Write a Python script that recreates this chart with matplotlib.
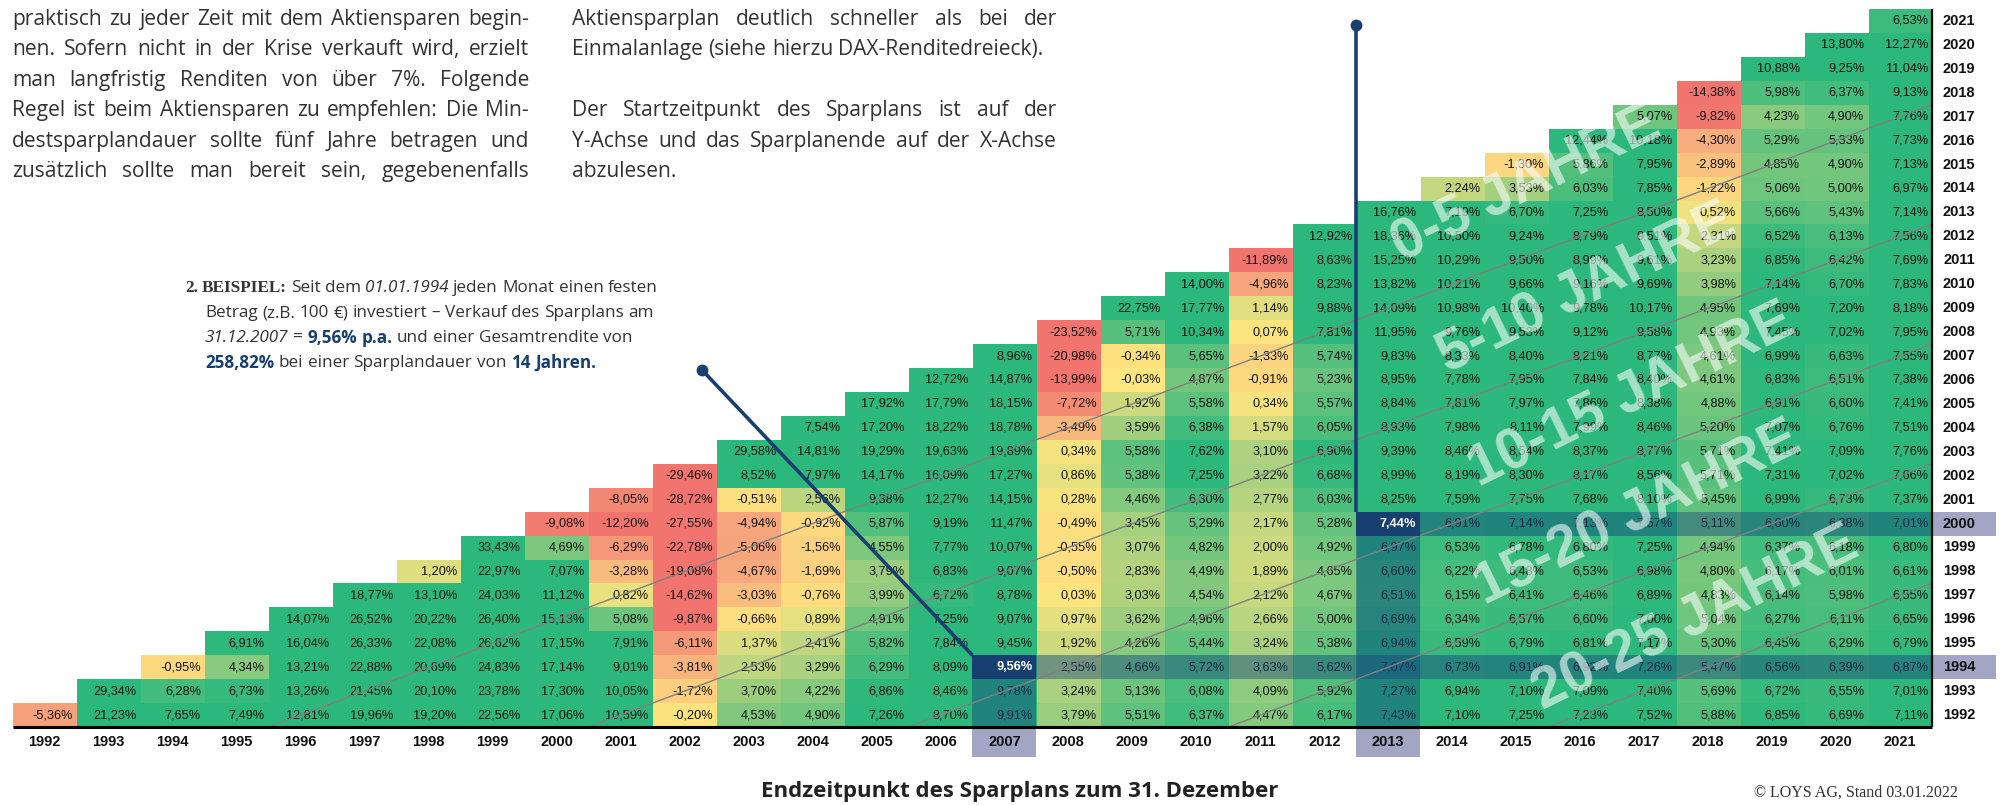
#!/usr/bin/env python3
# -*- coding: utf-8 -*-
"""
DAX-Sparplan-Renditedreieck (Rendite p.a.), Startjahr (Y) x Endjahr (X).
"""
import numpy as np
import matplotlib
matplotlib.use('Agg')
import matplotlib.pyplot as plt
from matplotlib.colors import LinearSegmentedColormap, Normalize
from matplotlib.patches import Rectangle
from matplotlib.transforms import IdentityTransform

plt.rcParams['font.family'] = ['Liberation Sans', 'DejaVu Sans']

# ——— Daten: Rendite p.a. je Sparplanende (Spalte), Startjahr ab 1992 aufwärts ———
years = list(range(1992, 2022))

end_1992 = [-5.36]
end_1993 = [21.23, 29.34]
end_1994 = [7.65, 6.28, -0.95]
end_1995 = [7.49, 6.73, 4.34, 6.91]
end_1996 = [12.81, 13.26, 13.21, 16.04, 14.07]
end_1997 = [19.96, 21.45, 22.88, 26.33, 26.52, 18.77]
end_1998 = [19.20, 20.10, 20.69, 22.08, 20.22, 13.10, 1.20]
end_1999 = [22.56, 23.78, 24.83, 26.62, 26.40, 24.03, 22.97, 33.43]
end_2000 = [17.06, 17.30, 17.14, 17.15, 15.13, 11.12, 7.07, 4.69, -9.08]
end_2001 = [10.59, 10.05, 9.01, 7.91, 5.08, 0.82, -3.28, -6.29, -12.20, -8.05]
end_2002 = [-0.20, -1.72, -3.81, -6.11, -9.87, -14.62, -19.08, -22.78, -27.55, -28.72, -29.46]
end_2003 = [4.53, 3.70, 2.53, 1.37, -0.66, -3.03, -4.67, -5.06, -4.94, -0.51, 8.52, 29.58]
end_2004 = [4.90, 4.22, 3.29, 2.41, 0.89, -0.76, -1.69, -1.56, -0.92, 2.56, 7.97, 14.81, 7.54]
end_2005 = [7.26, 6.86, 6.29, 5.82, 4.91, 3.99, 3.79, 4.55, 5.87, 9.38, 14.17, 19.29, 17.20, 17.92]
end_2006 = [8.70, 8.46, 8.09, 7.84, 7.25, 6.72, 6.83, 7.77, 9.19, 12.27, 16.09, 19.63, 18.22, 17.79, 12.72]
end_2007 = [9.91, 9.78, 9.56, 9.45, 9.07, 8.78, 9.07, 10.07, 11.47, 14.15, 17.27, 19.89, 18.78, 18.15,
            14.87, 8.96]
end_2008 = [3.79, 3.24, 2.55, 1.92, 0.97, 0.03, -0.50, -0.55, -0.49, 0.28, 0.86, 0.34, -3.49, -7.72,
            -13.99, -20.98, -23.52]
end_2009 = [5.51, 5.13, 4.66, 4.26, 3.62, 3.03, 2.83, 3.07, 3.45, 4.46, 5.38, 5.58, 3.59, 1.92,
            -0.03, -0.34, 5.71, 22.75]
end_2010 = [6.37, 6.08, 5.72, 5.44, 4.96, 4.54, 4.49, 4.82, 5.29, 6.30, 7.25, 7.62, 6.38, 5.58,
            4.87, 5.65, 10.34, 17.77, 14.00]
end_2011 = [4.47, 4.09, 3.63, 3.24, 2.66, 2.12, 1.89, 2.00, 2.17, 2.77, 3.22, 3.10, 1.57, 0.34,
            -0.91, -1.33, 0.07, 1.14, -4.96, -11.89]
end_2012 = [6.17, 5.92, 5.62, 5.38, 5.00, 4.67, 4.65, 4.92, 5.28, 6.03, 6.68, 6.90, 6.05, 5.57,
            5.23, 5.74, 7.81, 9.88, 8.23, 8.63, 12.92]
end_2013 = [7.43, 7.27, 7.07, 6.94, 6.69, 6.51, 6.60, 6.97, 7.44, 8.25, 8.99, 9.39, 8.93, 8.84,
            8.95, 9.83, 11.95, 14.09, 13.82, 15.25, 18.36, 16.76]
end_2014 = [7.10, 6.94, 6.73, 6.59, 6.34, 6.15, 6.22, 6.53, 6.91, 7.59, 8.19, 8.46, 7.98, 7.81,
            7.78, 8.33, 9.76, 10.98, 10.21, 10.29, 10.50, 7.19, 2.24]
end_2015 = [7.25, 7.10, 6.91, 6.79, 6.57, 6.41, 6.48, 6.78, 7.14, 7.75, 8.30, 8.54, 8.11, 7.97,
            7.95, 8.40, 9.53, 10.40, 9.66, 9.50, 9.24, 6.70, 3.53, -1.30]
end_2016 = [7.23, 7.09, 6.92, 6.81, 6.60, 6.46, 6.53, 6.80, 7.13, 7.68, 8.17, 8.37, 7.99, 7.86,
            7.84, 8.21, 9.12, 9.78, 9.16, 8.99, 8.79, 7.25, 6.03, 5.86, 12.44]
end_2017 = [7.52, 7.40, 7.26, 7.17, 7.00, 6.89, 6.98, 7.25, 7.57, 8.10, 8.56, 8.77, 8.46, 8.38,
            8.40, 8.77, 9.58, 10.17, 9.69, 9.61, 9.51, 8.50, 7.85, 7.95, 10.18, 5.07]
end_2018 = [5.88, 5.69, 5.47, 5.30, 5.04, 4.83, 4.80, 4.94, 5.11, 5.45, 5.71, 5.71, 5.20, 4.88,
            4.61, 4.61, 4.93, 4.95, 3.98, 3.23, 2.31, 0.52, -1.22, -2.89, -4.30, -9.82, -14.38]
end_2019 = [6.85, 6.72, 6.56, 6.45, 6.27, 6.14, 6.17, 6.37, 6.60, 6.99, 7.31, 7.41, 7.07, 6.91,
            6.83, 6.99, 7.45, 7.69, 7.14, 6.85, 6.52, 5.66, 5.06, 4.85, 5.29, 4.23, 5.98, 10.88]
end_2020 = [6.69, 6.55, 6.39, 6.29, 6.11, 5.98, 6.01, 6.18, 6.38, 6.73, 7.02, 7.09, 6.76, 6.60,
            6.51, 6.63, 7.02, 7.20, 6.70, 6.42, 6.13, 5.43, 5.00, 4.90, 5.33, 4.90, 6.37, 9.25, 13.80]
end_2021 = [7.11, 7.01, 6.87, 6.79, 6.65, 6.55, 6.61, 6.80, 7.01, 7.37, 7.66, 7.76, 7.51, 7.41,
            7.38, 7.55, 7.95, 8.18, 7.83, 7.69, 7.56, 7.14, 6.97, 7.13, 7.73, 7.76, 9.13, 11.04,
            12.27, 6.53]

columns = [end_1992, end_1993, end_1994, end_1995, end_1996, end_1997, end_1998, end_1999,
           end_2000, end_2001, end_2002, end_2003, end_2004, end_2005, end_2006, end_2007,
           end_2008, end_2009, end_2010, end_2011, end_2012, end_2013, end_2014, end_2015,
           end_2016, end_2017, end_2018, end_2019, end_2020, end_2021]

# Beispiele (Startjahr, Endjahr)
examples = [(1994, 2007), (2000, 2013)]
zone_labels = ['0-5 JAHRE', '5-10 JAHRE', '10-15 JAHRE', '15-20 JAHRE', '20-25 JAHRE']
zone_bounds = [4, 9, 14, 19, 24]   # Trennlinien Endjahr - Startjahr

# ——— Farben ———
NAVY = '#173F70'
SHADE = '#15457E'
LAV = '#A2A5C4'
TXT = '#333333'

# ——— Layout (Pixel) ———
W, H = 2000, 805
GX0, GX1 = 12.8, 1932.0
GY0, GY1 = 9.0, 727.0
COL = (GX1 - GX0) / len(years)
ROW = (GY1 - GY0) / len(years)

fig = plt.figure(figsize=(W / 100, H / 100), dpi=100)
ax = fig.add_axes([GX0 / W, 1 - GY1 / H, (GX1 - GX0) / W, (GY1 - GY0) / H])
lo, hi = years[0] - 0.5, years[-1] + 0.5
ax.set_xlim(lo, hi)
ax.set_ylim(lo, hi)
ax.axis('off')


def px2data(x, y):
    return lo + (x - GX0) / COL, lo + (GY1 - y) / ROW


# ——— Zellen ———
n = len(years)
grid = np.full((n, n), np.nan)
for j, col in enumerate(columns):
    for i, v in enumerate(col):
        grid[i, j] = v

cmap = LinearSegmentedColormap.from_list(
    'ryg', [(0.0, '#F1756E'), (5 / 17, '#F6A57D'), (10 / 17, '#FEE680'),
            (13.5 / 17, '#A5D07F'), (1.0, '#2CB87C')])
cmap.set_bad((1, 1, 1, 0))
ax.imshow(np.ma.masked_invalid(grid), cmap=cmap, norm=Normalize(-10, 7, clip=True),
          origin='lower', extent=(lo, hi, lo, hi), aspect='auto',
          interpolation='nearest', zorder=1)

hl = set((e, s) for s, e in examples)
for j, col in enumerate(columns):
    e = years[j]
    for i, v in enumerate(col):
        s = years[i]
        lab = f'{v:.2f}%'.replace('.', ',')
        if (e, s) in hl:
            ax.add_patch(Rectangle((e - 0.5, s - 0.5), 1, 1, fc=NAVY, ec='none', zorder=5))
            ax.text(e + 0.44, s, lab, ha='right', va='center', fontsize=9.2,
                    color='white', fontweight='bold', zorder=6)
        else:
            ax.text(e + 0.44, s, lab, ha='right', va='center', fontsize=9.2,
                    color='#111111', zorder=2)

# Hervorhebung Zeile / Spalte der Beispiele
for s, e in examples:
    ax.add_patch(Rectangle((e + 0.5, s - 0.5), hi - (e + 0.5), 1, fc=SHADE, alpha=0.45,
                           ec='none', zorder=4))
    ax.add_patch(Rectangle((e - 0.5, lo), 1, s - 0.5 - lo, fc=SHADE, alpha=0.45,
                           ec='none', zorder=4))
    ax.add_patch(Rectangle((e - 0.5, lo - 30 / ROW), 1, 30 / ROW, fc=LAV, ec='none',
                           clip_on=False, zorder=1))
    ax.add_patch(Rectangle((hi, s - 0.5), 1, 1, fc=LAV, ec='none', clip_on=False, zorder=1))

# Diagonale Trennlinien der Laufzeiten
for d in zone_bounds:
    ax.plot([lo + d, hi], [lo, hi - d], color='#808080', lw=1.0, zorder=4.5)

# Wasserzeichen
zone_pos = [(2015.15, 2014.15), (2016.1, 2009.8), (2016.8, 2005.3), (2016.9, 2000.4), (2017.8, 1996.0)]
for (x, y), t in zip(zone_pos, zone_labels):
    ax.text(x, y, t, rotation=26, rotation_mode='anchor', ha='center', va='center',
            fontsize=41, fontweight='bold', color='white', alpha=0.58, zorder=6)

# Achsenbeschriftungen
for y in years:
    ax.text(y, lo - 15 / ROW, str(y), ha='center', va='center', fontsize=10.5,
            fontweight='bold', color='#111111', clip_on=False, zorder=3)
    ax.text(hi + 27 / COL, y, str(y), ha='center', va='center', fontsize=10.5,
            fontweight='bold', color='#111111', clip_on=False, zorder=3)
ax.plot([lo, hi], [lo, lo], color='black', lw=2.2, solid_capstyle='butt', clip_on=False, zorder=8)
ax.plot([hi, hi], [lo, hi], color='black', lw=1.6, solid_capstyle='butt', clip_on=False, zorder=8)

# Verbindungslinien zu den Beispielen
x1, y1 = px2data(702, 370)
ax.plot([x1, 2007 - 0.5], [y1, 1994 + 0.5], color=NAVY, lw=2.6, solid_capstyle='butt',
        clip_on=False, zorder=7)
ax.plot(x1, y1, 'o', ms=7.5, color=NAVY, clip_on=False, zorder=7)
_, y2 = px2data(0, 25)
ax.plot([2013 - 0.5, 2013 - 0.5], [y2, 2000 + 0.5], color=NAVY, lw=2.6, solid_capstyle='butt',
        clip_on=False, zorder=7)
ax.plot(2013 - 0.5, y2, 'o', ms=7.5, color=NAVY, clip_on=False, zorder=7)

# ——— Fließtext ———
renderer = fig.canvas.get_renderer()
PX = IdentityTransform()


def width(t):
    return t.get_window_extent(renderer).width


def space_w(st):
    a = fig.text(0, 0, 'n n', transform=PX, **st)
    b = fig.text(0, 0, 'nn', transform=PX, **st)
    w = width(a) - width(b)
    a.remove()
    b.remove()
    return w


def place_line(segments, x0, y, x1=None):
    # segments: [(text, style)], x1 gesetzt -> Blocksatz
    toks = [(w, st) for s, st in segments for w in s.split()]
    arts = [fig.text(0, H - y, w, transform=PX, ha='left', va='center', **st) for w, st in toks]
    ws = [width(a) for a in arts]
    if x1 is None or len(arts) < 2:
        gap = space_w(toks[0][1])
    else:
        gap = (x1 - x0 - sum(ws)) / (len(arts) - 1)
    x = x0
    for a, w in zip(arts, ws):
        a.set_x(x)
        x += w + gap


body = dict(family='Open Sans', fontsize=15.1, color=TXT)
left_lines = ['praktisch zu jeder Zeit mit dem Aktiensparen begin-',
              'nen. Sofern nicht in der Krise verkauft wird, erzielt',
              'man langfristig Renditen von über 7%. Folgende',
              'Regel ist beim Aktiensparen zu empfehlen: Die Min-',
              'destsparplandauer sollte fünf Jahre betragen und',
              'zusätzlich sollte man bereit sein, gegebenenfalls']
right_lines = [('Aktiensparplan deutlich schneller als bei der', True),
               ('Einmalanlage (siehe hierzu DAX-Renditedreieck).', False),
               ('', False),
               ('Der Startzeitpunkt des Sparplans ist auf der', True),
               ('Y-Achse und das Sparplanende auf der X-Achse', True),
               ('abzulesen.', False)]
for k, line in enumerate(left_lines):
    place_line([(line, body)], 12, 19 + 30.5 * k, 529)
for k, (line, just) in enumerate(right_lines):
    if line:
        place_line([(line, body)], 572, 19 + 30.5 * k, 1057 if just else None)

# Beispieltext
reg = dict(family='Open Sans', fontsize=12.3, color=TXT)
ita = dict(family='Open Sans', fontsize=12.3, style='italic', color=TXT)
bld = dict(family='Open Sans', fontsize=12.3, fontweight='bold', color=NAVY)
ser = dict(family='Liberation Serif', fontsize=12.3, fontweight='bold', color=TXT)
place_line([('2. BEISPIEL:', ser), ('Seit dem', reg), ('01.01.1994', ita),
            ('jeden Monat einen festen', reg)], 185, 288)
place_line([('Betrag (z.B. 100 €) investiert – Verkauf des Sparplans am', reg)], 205, 313)
place_line([('31.12.2007', ita), ('=', reg), ('9,56% p.a.', bld),
            ('und einer Gesamtrendite von', reg)], 205, 338)
place_line([('258,82%', bld), ('bei einer Sparplandauer von', reg), ('14 Jahren.', bld)], 205, 363)

# Fußzeile
fig.text(1020 / W, 1 - 791 / H, 'Endzeitpunkt des Sparplans zum 31. Dezember', ha='center',
         va='center', family='Open Sans', fontsize=16, fontweight='bold', color='#222222')
fig.text(1958 / W, 1 - 793 / H, '© LOYS AG, Stand 03.01.2022', ha='right', va='center',
         family='Liberation Serif', fontsize=11.5, color=TXT)

fig.savefig('out.png', dpi=100)
